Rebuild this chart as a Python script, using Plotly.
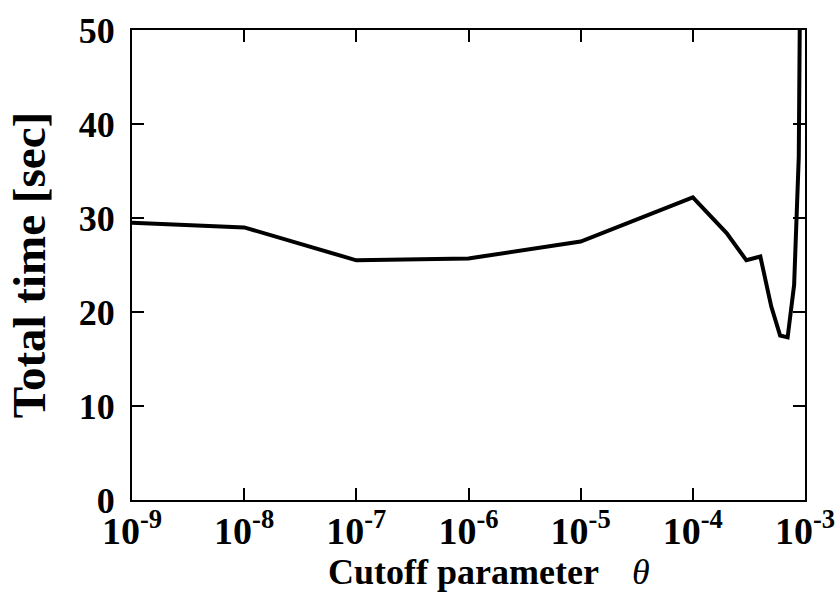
import plotly.graph_objects as go

# Cutoff parameter theta and the corresponding total run time
theta = [1e-9, 1e-8, 1e-7, 1e-6, 1e-5, 1e-4, 2e-4, 3e-4, 4e-4, 5e-4,
         6e-4, 7e-4, 8e-4, 8.8e-4, 9e-4]
total_time = [29.5, 29.0, 25.5, 25.7, 27.5, 32.2, 28.4, 25.5, 25.9, 20.6,
              17.5, 17.3, 22.9, 36.5, 52.0]

x_tickvals = [1e-9, 1e-8, 1e-7, 1e-6, 1e-5, 1e-4, 1e-3]
x_ticktext = ["10<sup>-9</sup>", "10<sup>-8</sup>", "10<sup>-7</sup>",
              "10<sup>-6</sup>", "10<sup>-5</sup>", "10<sup>-4</sup>",
              "10<sup>-3</sup>"]
y_tickvals = [0, 10, 20, 30, 40, 50]

serif = "Liberation Serif, Times New Roman, serif"

fig = go.Figure()
fig.add_trace(go.Scatter(
    x=theta, y=total_time, mode="lines",
    line=dict(color="black", width=4),
    showlegend=False,
))

fig.update_layout(
    width=838, height=596,
    margin=dict(l=132, r=33, t=30, b=96),
    paper_bgcolor="white", plot_bgcolor="white",
    font=dict(family=serif, color="black"),
)

fig.update_xaxes(
    type="log", range=[-9, -3], automargin=False,
    tickvals=x_tickvals, ticktext=x_ticktext,
    tickfont=dict(family=serif, size=38, weight="bold"),
    ticklabelstandoff=-4,
    ticks="inside", ticklen=12, tickwidth=2, tickcolor="black",
    showline=True, linecolor="black", linewidth=2, mirror="ticks",
    showgrid=False, zeroline=False,
)
fig.update_yaxes(
    range=[0, 50], automargin=False, tickvals=y_tickvals,
    tickfont=dict(family=serif, size=36, weight="bold"),
    ticklabelstandoff=8,
    ticks="inside", ticklen=12, tickwidth=2, tickcolor="black",
    showline=True, linecolor="black", linewidth=2, mirror="ticks",
    showgrid=False, zeroline=False,
    title=dict(text="<b>Total time [sec]</b>",
               font=dict(family=serif, size=47), standoff=18),
)

# x-axis title: bold label followed by an italic theta
title_y = -(572 - 500) / (500 - 30)
fig.add_annotation(
    text="<b>Cutoff parameter</b>", xref="paper", yref="paper",
    x=(463 - 132) / (805 - 132), y=title_y, xanchor="center", yanchor="middle",
    showarrow=False, font=dict(family=serif, size=36),
)
fig.add_annotation(
    text="<i>θ</i>", xref="paper", yref="paper",
    x=(641 - 132) / (805 - 132), y=title_y, xanchor="center", yanchor="middle",
    showarrow=False, font=dict(family=serif, size=36),
)

fig.write_html("out.html")
